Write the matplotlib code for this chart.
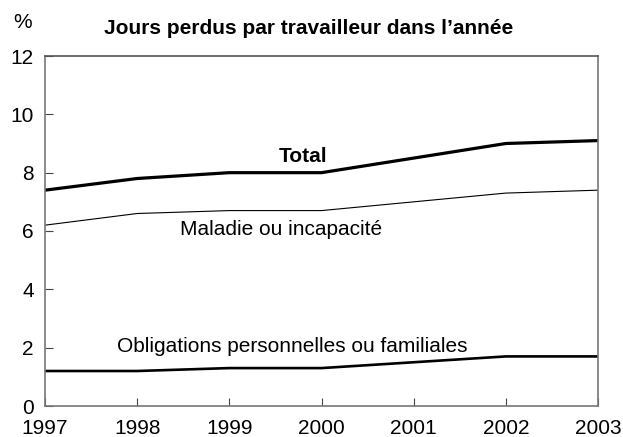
import matplotlib.pyplot as plt

plt.rcParams['font.family'] = ['Liberation Sans', 'DejaVu Sans']

years = [1997, 1998, 1999, 2000, 2001, 2002, 2003]
total = [7.4, 7.8, 8.0, 8.0, 8.5, 9.0, 9.1]
maladie = [6.2, 6.6, 6.7, 6.7, 7.0, 7.3, 7.4]
obligations = [1.2, 1.2, 1.3, 1.3, 1.5, 1.7, 1.7]
yticks = [0, 2, 4, 6, 8, 10, 12]

fig = plt.figure(figsize=(6.23, 4.37), dpi=100)
ax = fig.add_axes([45/623, 1 - 406/437, 553/623, 350/437])

ax.plot(years, total, color='black', lw=2.3)
ax.plot(years, maladie, color='black', lw=0.8)
ax.plot(years, obligations, color='black', lw=1.9)

ax.set_xlim(1997, 2003)
ax.set_ylim(0, 12)
ax.set_xticks(years)
ax.set_yticks(yticks)
ax.tick_params(direction='in', length=6, width=0.8, color='#444444', labelsize=15)
ax.tick_params(axis='y', pad=8)
ax.tick_params(axis='x', pad=9)
for s in ax.spines.values():
    s.set_color('#777777')
    s.set_linewidth(1.2)
ax.spines['top'].set_color('#555555')

ax.text(1999.8, 8.55, 'Total', ha='center', va='center', fontsize=15, fontweight='bold')
ax.text(1999.56, 6.05, 'Maladie ou incapacité', ha='center', va='center', fontsize=15)
ax.text(1999.68, 2.05, 'Obligations personnelles ou familiales', ha='center', va='center', fontsize=15)

fig.text(13/623, 1 - 23/437, '%', ha='left', va='center', fontsize=15)
fig.text(309/623, 1 - 29/437, 'Jours perdus par travailleur dans l\u2019année', ha='center', va='center',
         fontsize=15, fontweight='bold')

fig.savefig('out.png', dpi=100)
